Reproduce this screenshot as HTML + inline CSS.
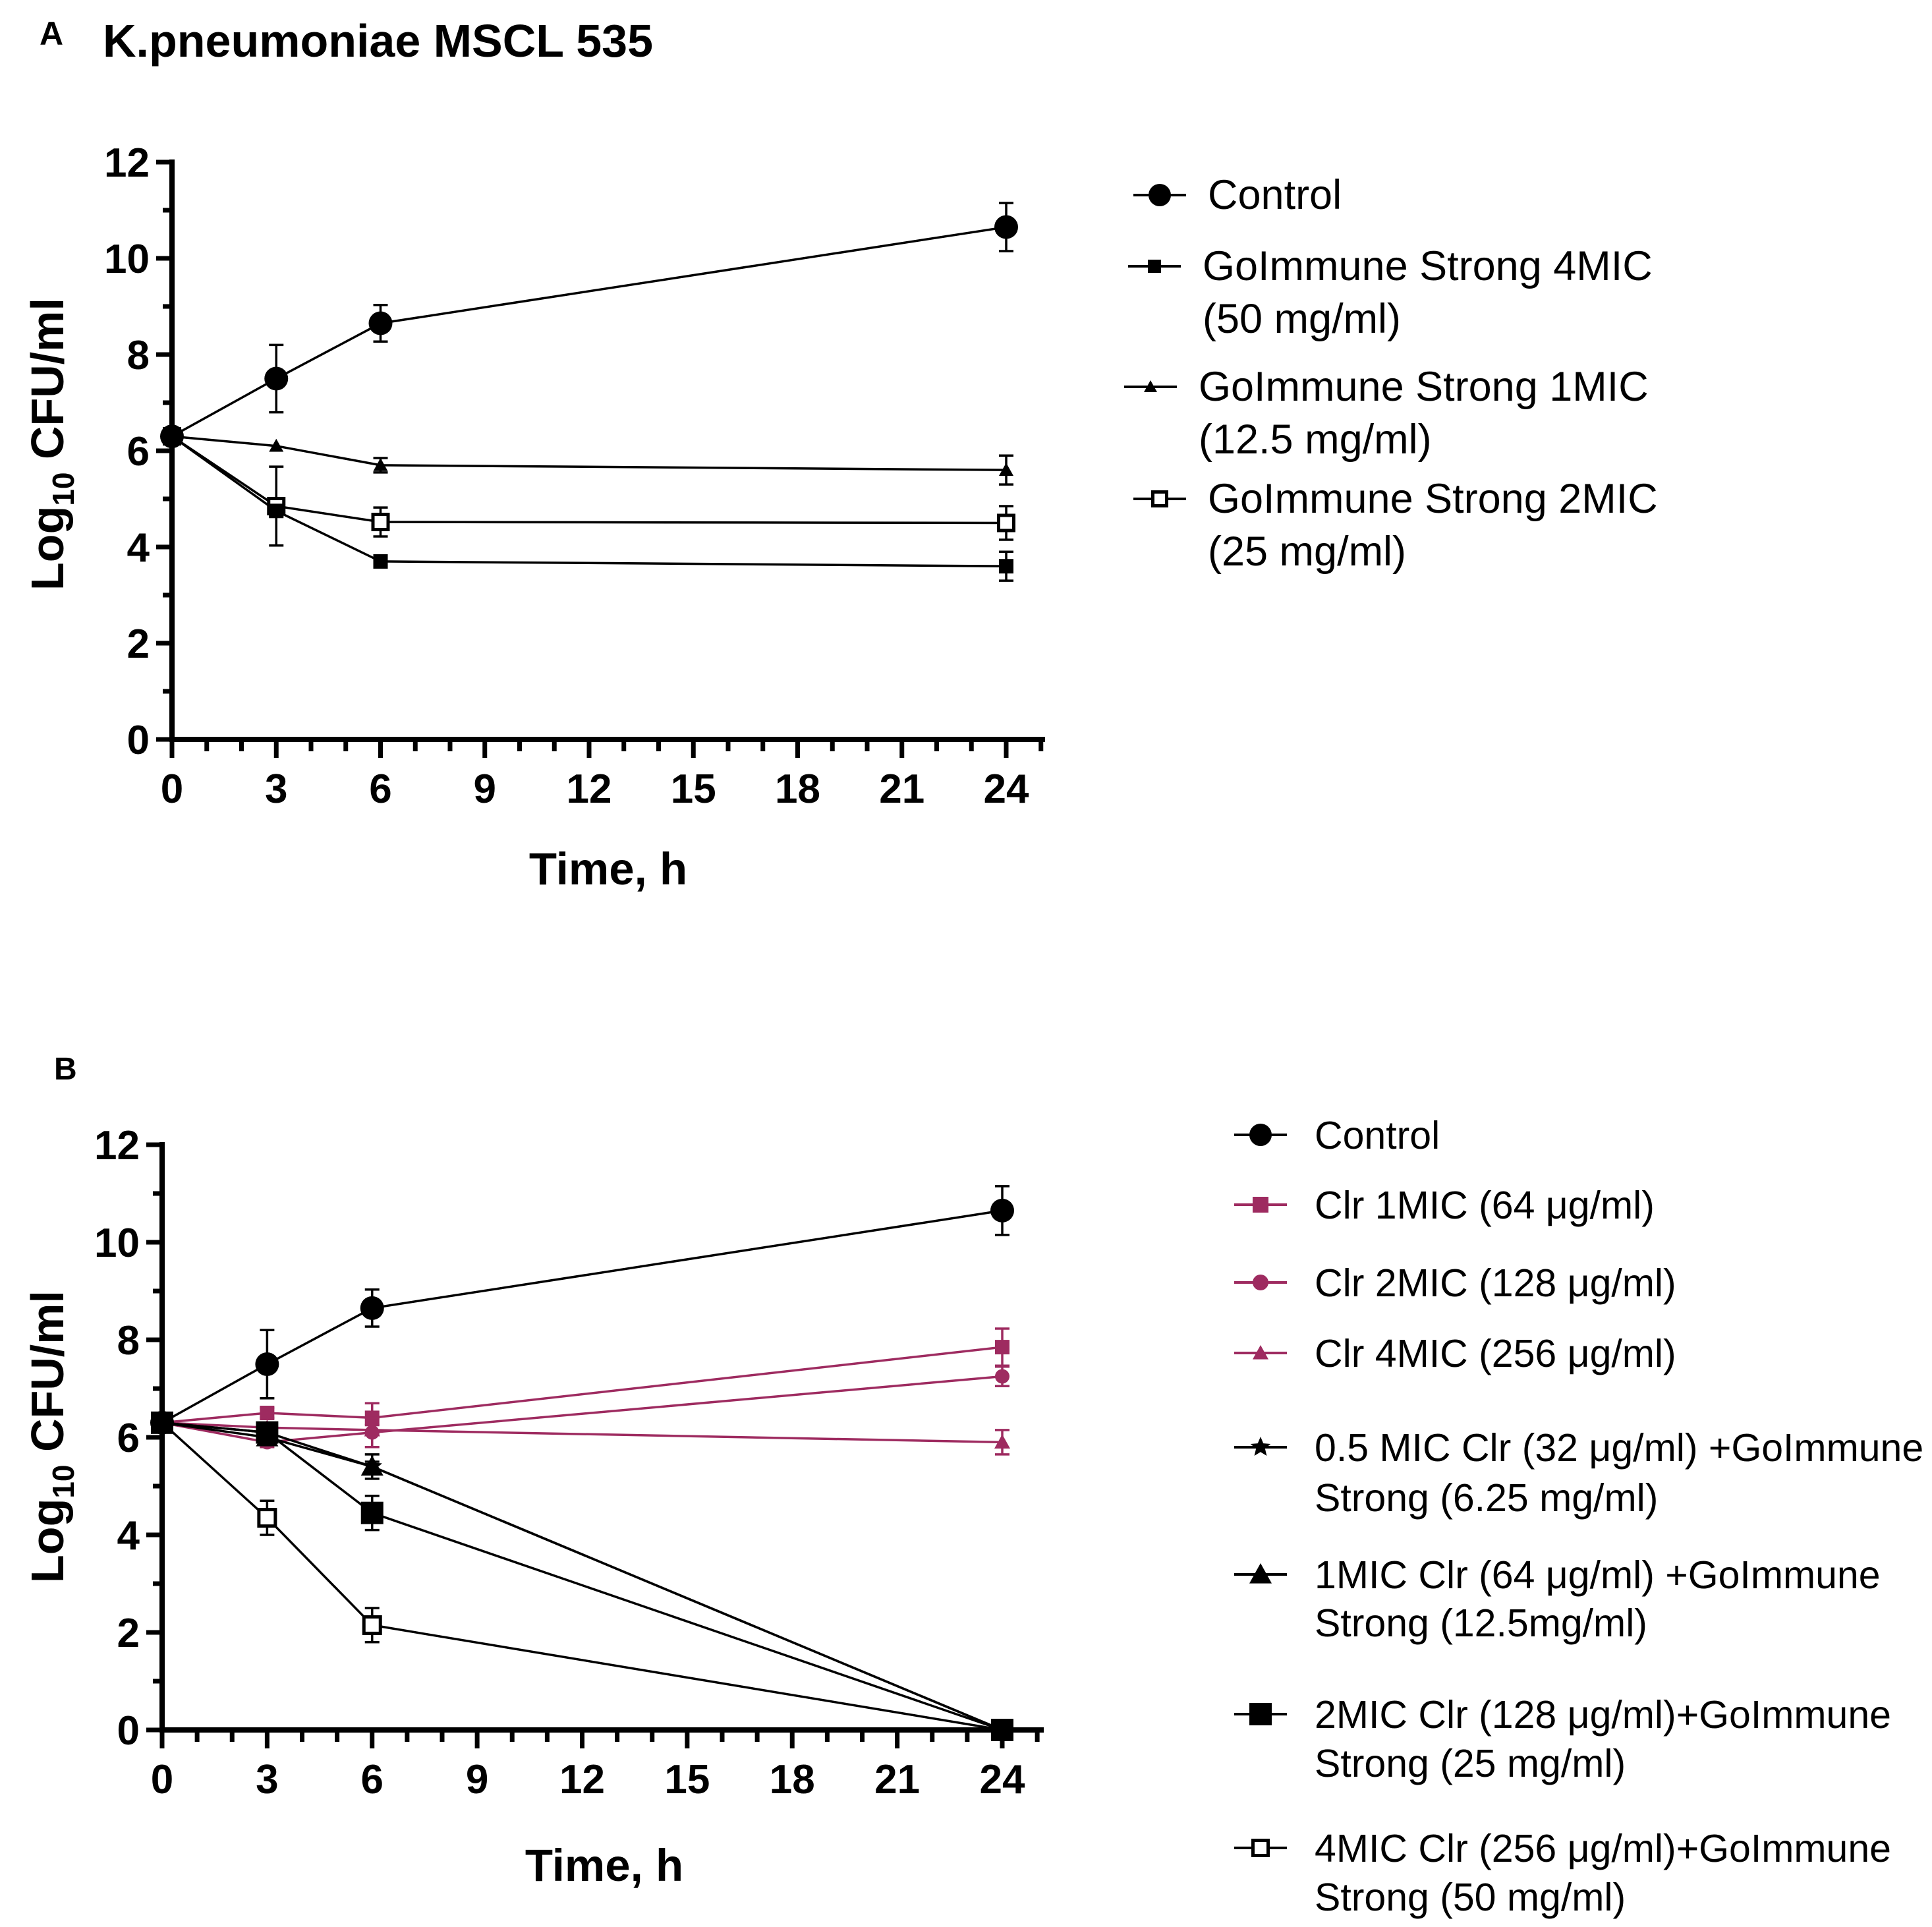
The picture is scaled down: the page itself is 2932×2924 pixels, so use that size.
<!DOCTYPE html>
<html><head><meta charset="utf-8"><style>
html,body{margin:0;padding:0;background:#fff;}
svg{display:block;font-family:"Liberation Sans",Arial,sans-serif;}
</style></head><body>
<svg id="fig" width="2932" height="2924" viewBox="0 0 2932 2924" xmlns="http://www.w3.org/2000/svg">
<text x="60" y="68" font-size="50" font-weight="bold">A</text>
<text x="156" y="86" font-size="70" font-weight="bold">K.pneumoniae MSCL 535</text>
<text x="82" y="1638" font-size="48" font-weight="bold">B</text>
<g id="pa"></g>
<g id="pb"></g>
</svg>
<script>
const NS="http://www.w3.org/2000/svg";
const MAG="#9e2b60";
const times=[0,3,6,24];
const xTicks=[0,3,6,9,12,15,18,21,24];
const yTicks=[0,2,4,6,8,10,12];
// Panel A
const aControl=[6.3,7.5,8.65,10.65];
const aControlErr=[0.1,0.7,0.38,0.5];
const a4MIC=[6.3,4.75,3.7,3.6];
const a4MICErr=[0,0.1,0.1,0.3];
const a1MIC=[6.3,6.1,5.7,5.6];
const a1MICErr=[0,0,0.15,0.3];
const a2MIC=[6.3,4.85,4.52,4.5];
const a2MICErr=[0,0.82,0.3,0.35];
// Panel B
const bControl=[6.3,7.5,8.65,10.65];
const bControlErr=[0.1,0.7,0.38,0.5];
const bClr1=[6.3,6.5,6.4,7.85];
const bClr1Err=[0,0.1,0.3,0.38];
const bClr2=[6.3,5.9,6.1,7.25];
const bClr2Err=[0,0.1,0.3,0.2];
const bClr4=[6.3,6.2,6.15,5.9];
const bClr4Err=[0,0.1,0.1,0.25];
const bHalf=[6.3,6.1,5.4,0];
const bHalfErr=[0,0.1,0.1,0];
const b1=[6.3,6.0,5.4,0];
const b1Err=[0,0.15,0.25,0];
const b2=[6.3,6.1,4.45,0];
const b2Err=[0,0.15,0.35,0];
const b4=[6.3,4.35,2.15,0];
const b4Err=[0,0.35,0.35,0];

function el(parent,tag,attrs,name,inter){
  const e=document.createElementNS(NS,tag);
  for(const k in attrs)e.setAttribute(k,attrs[k]);
  
  
  parent.appendChild(e);return e;
}
function marker(g,type,cx,cy,s,color,name){
  if(type==='circle')return el(g,'circle',{cx:cx,cy:cy,r:s,fill:color},name,false);
  if(type==='square')return el(g,'rect',{x:cx-s,y:cy-s,width:2*s,height:2*s,fill:color},name,false);
  if(type==='open')return el(g,'rect',{x:cx-s+2.5,y:cy-s+2.5,width:2*s-5,height:2*s-5,fill:'#fff',stroke:color,'stroke-width':5},name,false);
  if(type==='tri')return el(g,'polygon',{points:`${cx},${cy-s} ${cx-s},${cy+s*0.8} ${cx+s},${cy+s*0.8}`,fill:color},name,false);
  if(type==='star'){let p=[];for(let i=0;i<10;i++){const r=i%2?s*0.45:s;const a=-Math.PI/2+i*Math.PI/5;p.push((cx+r*Math.cos(a))+','+(cy+r*Math.sin(a)));}
    return el(g,'polygon',{points:p.join(' '),fill:color},name,false);}
}
function chart(gid,ax,series,legend){
  const g=document.getElementById(gid);
  const X=t=>ax.x0+(ax.x24-ax.x0)*t/24;
  const Y=v=>ax.y0-(ax.y0-ax.y12)*v/12;
  el(g,'line',{x1:ax.x0,y1:ax.y12-4,x2:ax.x0,y2:ax.y0+4,stroke:'#000','stroke-width':8},'y-axis',false);
  el(g,'line',{x1:ax.x0-4,y1:ax.y0,x2:ax.xend,y2:ax.y0,stroke:'#000','stroke-width':8},'x-axis',false);
  for(let v=0;v<=12;v++){
    el(g,'line',{x1:ax.x0-(v%2?14:24),y1:Y(v),x2:ax.x0,y2:Y(v),stroke:'#000','stroke-width':7},'y-tick',false);
  }
  yTicks.forEach(v=>{const t=el(g,'text',{x:ax.x0-34,y:Y(v)+22,'font-size':62,'font-weight':'bold','text-anchor':'end'},'y-tick-label',false);t.textContent=v;});
  for(let t=0;t<=25;t++){
    if(X(t)>ax.xend+2)break;
    el(g,'line',{x1:X(t),y1:ax.y0,x2:X(t),y2:ax.y0+(t%3?18:28),stroke:'#000','stroke-width':7},'x-tick',false);
  }
  xTicks.forEach(v=>{const t=el(g,'text',{x:X(v),y:ax.y0+96,'font-size':62,'font-weight':'bold','text-anchor':'middle'},'x-tick-label',false);t.textContent=v;});
  const xl=el(g,'text',{x:ax.xlabX,y:ax.xlabY,'font-size':69,'font-weight':'bold','text-anchor':'middle'},'x-axis-title',false);xl.textContent='Time, h';
  const yl=el(g,'text',{x:0,y:0,'font-size':70,'font-weight':'bold','text-anchor':'middle',transform:`translate(${ax.ylabX},${ax.ylabY}) rotate(-90)`},'y-axis-title',false);
  yl.innerHTML='Log<tspan font-size="46" dy="16">10</tspan><tspan dy="-16"> CFU/ml</tspan>';
  series.forEach(s=>{
    const sg=el(g,'g',{},s.name,false);
    const pts=times.map((t,i)=>X(t)+','+Y(s.v[i])).join(' ');
    el(sg,'polyline',{points:pts,fill:'none',stroke:s.c,'stroke-width':3.5},s.name+'-line',false);
    times.forEach((t,i)=>{
      const e=s.e[i];
      if(e>0.05){
        el(sg,'line',{x1:X(t),y1:Y(s.v[i]+e),x2:X(t),y2:Y(s.v[i]-e),stroke:s.c,'stroke-width':3.5},s.name+'-error-bar',false);
        el(sg,'line',{x1:X(t)-11,y1:Y(s.v[i]+e),x2:X(t)+11,y2:Y(s.v[i]+e),stroke:s.c,'stroke-width':3.5},s.name+'-error-cap',false);
        el(sg,'line',{x1:X(t)-11,y1:Y(s.v[i]-e),x2:X(t)+11,y2:Y(s.v[i]-e),stroke:s.c,'stroke-width':3.5},s.name+'-error-cap',false);
      }
      marker(sg,s.m,X(t),Y(s.v[i]),s.s,s.c,s.name+'-point');
    });
  });
  legend.forEach(L=>{
    const lg=el(g,'g',{},'legend-entry',true);
    el(lg,'line',{x1:L.mx-40,y1:L.y,x2:L.mx+40,y2:L.y,stroke:L.c,'stroke-width':4},'legend-line',false);
    marker(lg,L.m,L.mx,L.y,L.s,L.c,'legend-marker');
    L.lines.forEach((txt,i)=>{const t=el(lg,'text',{x:L.tx,y:L.y+21+i*L.lh,'font-size':ax.lfs},'legend-label',false);t.textContent=txt;});
  });
}
chart('pa',{x0:261,x24:1527,y0:1122,y12:246,xend:1586,xlabX:923,xlabY:1342,ylabX:96,ylabY:674,lfs:63},[
  {name:'series-2mic',v:a2MIC,e:a2MICErr,m:'open',s:14,c:'#000'},
  {name:'series-1mic',v:a1MIC,e:a1MICErr,m:'tri',s:11,c:'#000'},
  {name:'series-4mic',v:a4MIC,e:a4MICErr,m:'square',s:11,c:'#000'},
  {name:'series-control',v:aControl,e:aControlErr,m:'circle',s:18,c:'#000'}
],[
  {mx:1760,y:296,tx:1833,lh:0,m:'circle',s:17,c:'#000',lines:['Control']},
  {mx:1752,y:404,tx:1825,lh:80,m:'square',s:10,c:'#000',lines:['GoImmune Strong 4MIC','(50 mg/ml)']},
  {mx:1746,y:587,tx:1819,lh:80,m:'tri',s:10,c:'#000',lines:['GoImmune Strong 1MIC','(12.5 mg/ml)']},
  {mx:1760,y:757,tx:1833,lh:80,m:'open',s:13,c:'#000',lines:['GoImmune Strong 2MIC','(25 mg/ml)']}
]);
chart('pb',{x0:246,x24:1521,y0:2625,y12:1737,xend:1584,xlabX:917,xlabY:2854,ylabX:96,ylabY:2180,lfs:59},[
  {name:'series-4mic-combo',v:b4,e:b4Err,m:'open',s:15,c:'#000'},
  {name:'series-clr-1mic',v:bClr1,e:bClr1Err,m:'square',s:11,c:MAG},
  {name:'series-clr-2mic',v:bClr2,e:bClr2Err,m:'circle',s:11,c:MAG},
  {name:'series-clr-4mic',v:bClr4,e:bClr4Err,m:'tri',s:12,c:MAG},
  {name:'series-half-mic-combo',v:bHalf,e:bHalfErr,m:'star',s:16,c:'#000'},
  {name:'series-1mic-combo',v:b1,e:b1Err,m:'tri',s:17,c:'#000'},
  {name:'series-2mic-combo',v:b2,e:b2Err,m:'square',s:17,c:'#000'},
  {name:'series-control',v:bControl,e:bControlErr,m:'circle',s:18,c:'#000'}
],[
  {mx:1913,y:1722,tx:1995,lh:0,m:'circle',s:17,c:'#000',lines:['Control']},
  {mx:1913,y:1828,tx:1995,lh:0,m:'square',s:12,c:MAG,lines:['Clr 1MIC (64 μg/ml)']},
  {mx:1913,y:1946,tx:1995,lh:0,m:'circle',s:12,c:MAG,lines:['Clr 2MIC (128 μg/ml)']},
  {mx:1913,y:2053,tx:1995,lh:0,m:'tri',s:12,c:MAG,lines:['Clr 4MIC (256 μg/ml)']},
  {mx:1913,y:2196,tx:1995,lh:76,m:'star',s:16,c:'#000',lines:['0.5 MIC Clr (32 μg/ml) +GoImmune','Strong (6.25 mg/ml)']},
  {mx:1913,y:2389,tx:1995,lh:73,m:'tri',s:17,c:'#000',lines:['1MIC Clr (64 μg/ml) +GoImmune','Strong (12.5mg/ml)']},
  {mx:1913,y:2601,tx:1995,lh:74,m:'square',s:17,c:'#000',lines:['2MIC Clr (128 μg/ml)+GoImmune','Strong (25 mg/ml)']},
  {mx:1913,y:2804,tx:1995,lh:74,m:'open',s:14,c:'#000',lines:['4MIC Clr (256 μg/ml)+GoImmune','Strong (50 mg/ml)']}
]);
</script>
</body></html>
